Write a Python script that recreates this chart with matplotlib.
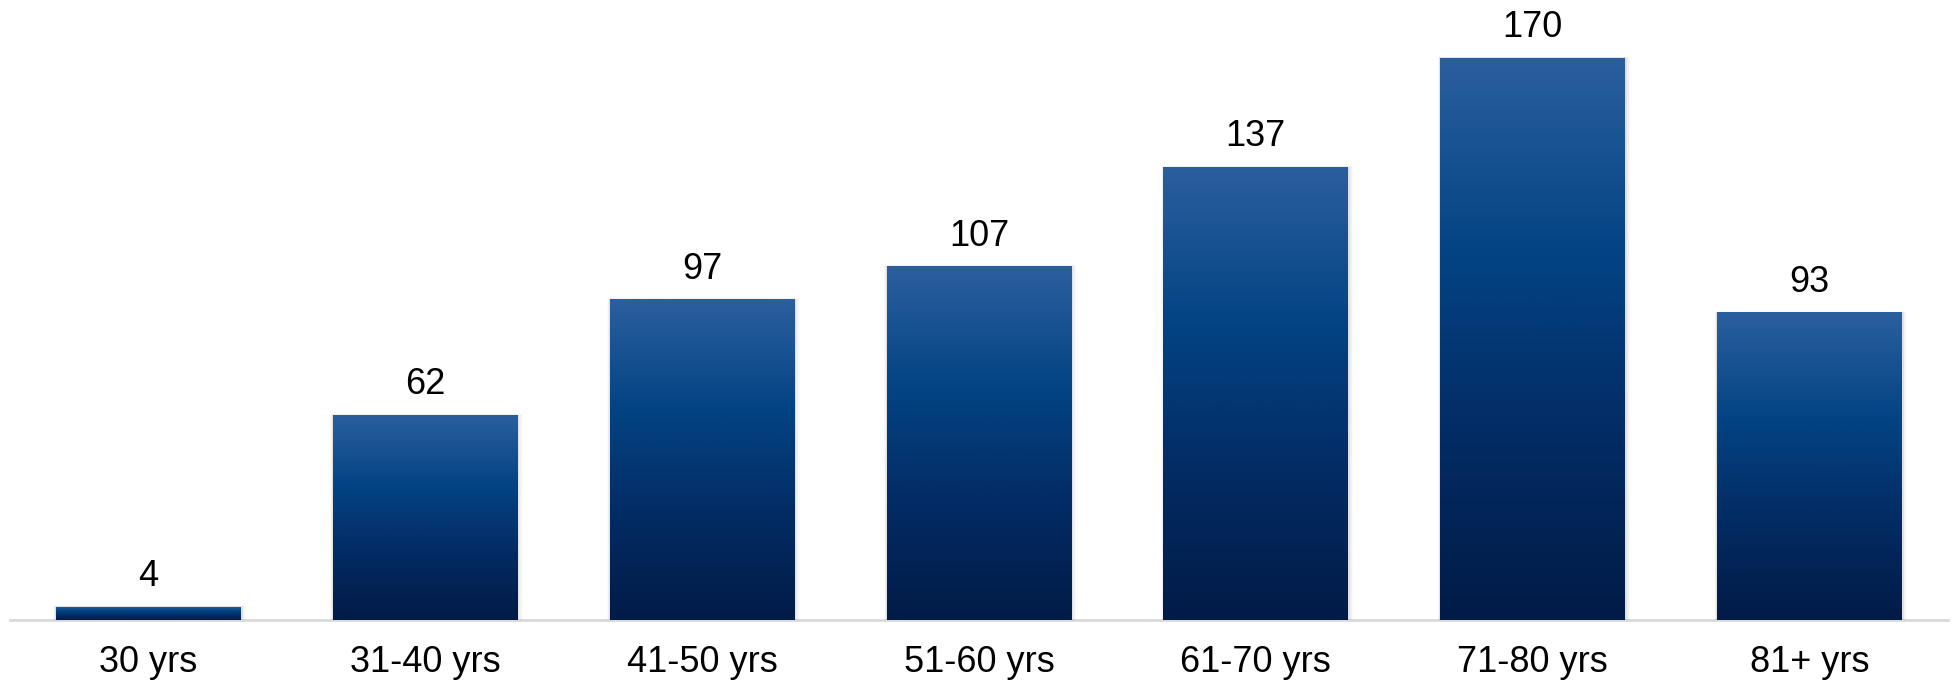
import matplotlib
matplotlib.use("Agg")
import matplotlib.pyplot as plt
import numpy as np
from matplotlib.colors import LinearSegmentedColormap

categories = ["30 yrs", "31-40 yrs", "41-50 yrs", "51-60 yrs", "61-70 yrs", "71-80 yrs", "81+ yrs"]
counts = [4, 62, 97, 107, 137, 170, 93]

plt.rcParams["font.family"] = ["Liberation Sans", "DejaVu Sans"]

W, H = 1953, 681
fig = plt.figure(figsize=(W / 100, H / 100), dpi=100)
ax = fig.add_axes([10 / W, (H - 620) / H, 1938 / W, 620 / H])

grad = LinearSegmentedColormap.from_list(
    "bar", [(0.0, "#011B47"), (0.35, "#032D66"), (0.65, "#034383"), (1.0, "#2B5F9F")]
)

x = np.arange(len(categories))
bars = ax.bar(x, counts, width=0.668, color="none", edgecolor="none", zorder=3)

ax.set_xlim(-0.5, len(categories) - 0.5)
ax.set_ylim(0, 187.5)

for b in bars:
    x0, y0, w, h = b.get_x(), b.get_y(), b.get_width(), b.get_height()
    # soft shadow
    for k, a in enumerate([0.06, 0.04, 0.02]):
        d = 0.006 * (k + 1)
        sh = plt.Rectangle((x0 - d * 0.5, y0), w + d * 1.5, h + d * 20,
                           facecolor="black", alpha=a, edgecolor="none", zorder=2)
        ax.add_patch(sh)
    img = ax.imshow(np.linspace(0, 1, 256).reshape(-1, 1), cmap=grad, aspect="auto",
                    origin="lower", extent=(x0, x0 + w, y0, y0 + h), zorder=3)
    img.set_clip_path(b)
    ax.annotate(str(int(h)), (x0 + w / 2, h), xytext=(0, 9), textcoords="offset points",
                ha="center", va="bottom", fontsize=26, color="black")

for s in ["top", "right", "left"]:
    ax.spines[s].set_visible(False)
ax.spines["bottom"].set_color("#D9D9D9")
ax.spines["bottom"].set_linewidth(2)
ax.spines["bottom"].set_zorder(1)
ax.set_yticks([])
ax.set_xticks(x)
ax.set_xticklabels(categories, fontsize=26)
ax.tick_params(axis="x", length=0, pad=18)

fig.savefig("out.png", dpi=100)
